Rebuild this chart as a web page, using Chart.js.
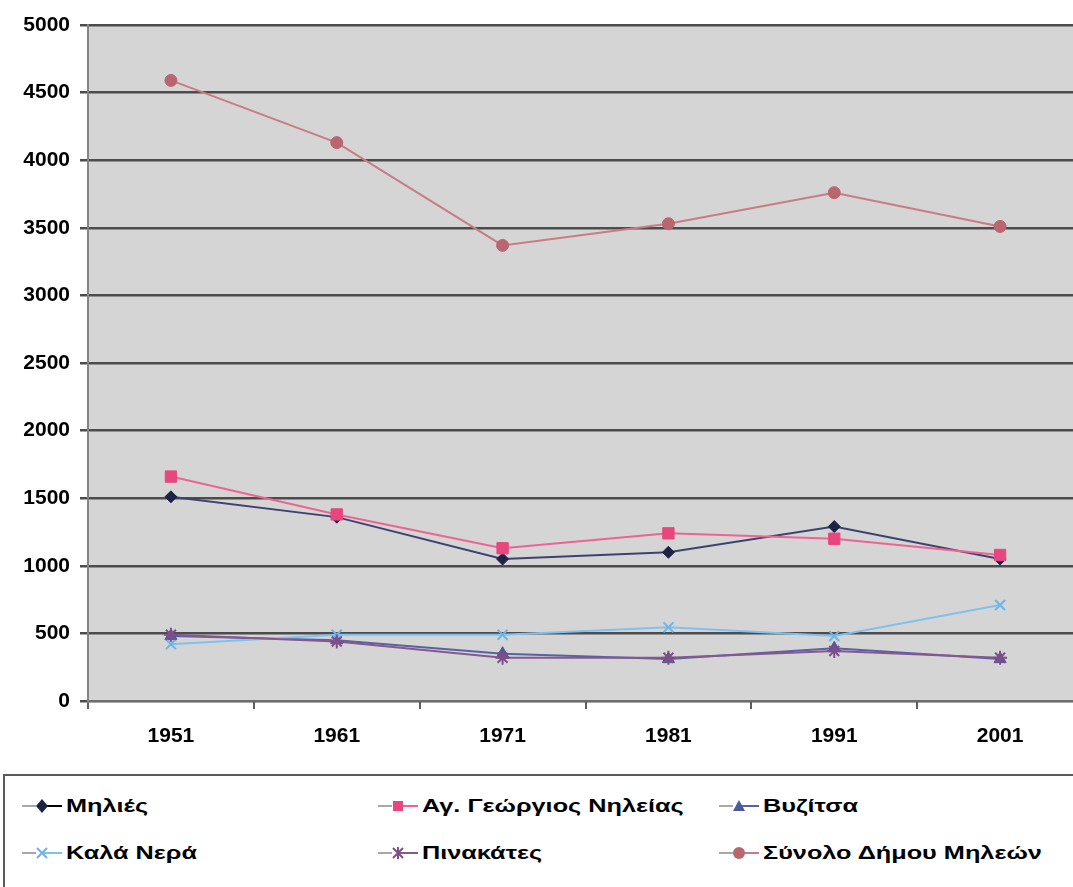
<!DOCTYPE html>
<html>
<head>
<meta charset="utf-8">
<script src="https://cdn.jsdelivr.net/npm/chart.js@4.4.1/dist/chart.umd.min.js"></script>
<style>
  html, body { margin: 0; padding: 0; background: #fff; overflow: hidden; width: 1073px; height: 887px; }
  #wrap { position: absolute; left: 0; top: 0; width: 1092px; height: 768px; }
  #legend { position: absolute; left: 3px; top: 774px; width: 1100px; height: 140px;
    border: 2px solid #5a5a5a; box-sizing: border-box; }
  .item { position: absolute; height: 30px; display: flex; align-items: center; }
  .item svg { flex: none; }
  .item span { font: bold 19px "Liberation Sans", Arial, sans-serif; color: #000;
    display: inline-block; transform: scaleX(1.33); transform-origin: left center;
    white-space: nowrap; margin-left: 4px; }
</style>
</head>
<body>
<div id="wrap"><canvas id="chart"></canvas></div>
<div id="legend"></div>
<script>
// census years
const years = ['1951', '1961', '1971', '1981', '1991', '2001'];

const seriesNames = [
  'Μηλιές',
  'Αγ. Γεώργιος Νηλείας',
  'Βυζίτσα',
  'Καλά Νερά',
  'Πινακάτες',
  'Σύνολο Δήμου Μηλεών'
];

// population per village
const milies = [1510, 1360, 1050, 1100, 1290, 1050];
const agGeorgios = [1660, 1380, 1130, 1240, 1200, 1080];
const vyzitsa = [480, 450, 350, 310, 390, 310];
const kalaNera = [420, 490, 490, 545, 480, 710];
const pinakates = [490, 440, 320, 320, 370, 320];
const synolo = [4590, 4130, 3370, 3530, 3760, 3510];

const yTicks = [0, 500, 1000, 1500, 2000, 2500, 3000, 3500, 4000, 4500, 5000];

const styles = [
  { line: '#3d4270', point: '#1e2244', shape: 'rectRot', r: 6 },
  { line: '#ec6494', point: '#e8467f', shape: 'rect', r: 8 },
  { line: '#5563a3', point: '#4b5a9c', shape: 'triangle', r: 7 },
  { line: '#7fc2ee', point: '#6cb4ea', shape: 'crossRot', r: 7 },
  { line: '#86588f', point: '#7d4f88', shape: 'star', r: 7 },
  { line: '#c97b88', point: '#b9666f', shape: 'circle', r: 6 }
];

const values = [milies, agGeorgios, vyzitsa, kalaNera, pinakates, synolo];

const datasets = values.map((data, i) => ({
  label: seriesNames[i],
  data,
  borderColor: styles[i].line,
  backgroundColor: styles[i].point,
  pointBackgroundColor: styles[i].point,
  pointBorderColor: styles[i].point,
  pointStyle: styles[i].shape,
  pointRadius: styles[i].r,
  pointBorderWidth: styles[i].shape === 'crossRot' || styles[i].shape === 'star' ? 2 : 1,
  borderWidth: 2,
  tension: 0,
  fill: false,
  order: 6 - i
}));

const plotBg = {
  id: 'plotBg',
  beforeDraw(chart) {
    const { ctx, chartArea: a } = chart;
    ctx.save();
    ctx.fillStyle = '#d5d5d5';
    ctx.fillRect(a.left, a.top, a.right - a.left, a.bottom - a.top);
    ctx.restore();
  }
};

const tickFont = { family: '"Liberation Sans", Arial, sans-serif', size: 21, weight: 'bold' };

new Chart(document.getElementById('chart'), {
  type: 'line',
  data: { labels: years, datasets },
  options: {
    responsive: true,
    maintainAspectRatio: false,
    animation: false,
    layout: { padding: { top: 25, right: 4, left: 0, bottom: 0 } },
    plugins: { legend: { display: false }, tooltip: { enabled: false } },
    scales: {
      x: {
        offset: true,
        grid: { offset: true, drawOnChartArea: false, drawTicks: true, tickLength: 8, color: '#5e5e5e', lineWidth: 2 },
        border: { display: true, color: '#6e6e6e', width: 2 },
        ticks: { font: tickFont, color: '#000', padding: 15, maxRotation: 0 },
        afterFit(scale) { scale.height = 67; }
      },
      y: {
        min: 0,
        max: 5000,
        afterBuildTicks(scale) { scale.ticks = yTicks.map(v => ({ value: v })); },
        grid: { color: '#4c4c4c', lineWidth: 2.5, tickLength: 8 },
        border: { display: true, color: '#858585', width: 2 },
        ticks: { font: tickFont, color: '#000', padding: 10, callback: v => String(v) },
        afterFit(scale) { scale.width = 88; }
      }
    }
  },
  plugins: [plotBg]
});

// legend drawn as html, 3 columns x 2 rows like the original
const markerSvg = (i) => {
  const s = styles[i];
  const c = s.point;
  let m = '';
  if (s.shape === 'rectRot') m = `<polygon points="20,4 26,11 20,18 14,11" fill="${c}"/>`;
  if (s.shape === 'rect') m = `<rect x="15" y="6" width="10" height="10" fill="${c}"/>`;
  if (s.shape === 'triangle') m = `<polygon points="20,5 26,16 14,16" fill="${c}"/>`;
  if (s.shape === 'crossRot') m = `<path d="M15 6 L25 16 M25 6 L15 16" stroke="${c}" stroke-width="2"/>`;
  if (s.shape === 'star') m = `<path d="M15 6 L25 16 M25 6 L15 16 M20 5 L20 17" stroke="${c}" stroke-width="2"/>`;
  if (s.shape === 'circle') m = `<circle cx="20" cy="11" r="6" fill="${c}"/>`;
  return `<svg width="40" height="22" viewBox="0 0 40 22">
    <line x1="0" y1="11" x2="14" y2="11" stroke="#a8a8a8" stroke-width="2"/>
    <line x1="20" y1="11" x2="40" y2="11" stroke="${i === 0 ? '#000' : s.line}" stroke-width="2"/>
    ${m}</svg>`;
};

const colLeft = [17, 373, 714];
const rowTop = [15, 62];
const legend = document.getElementById('legend');
seriesNames.forEach((name, i) => {
  const d = document.createElement('div');
  d.className = 'item';
  d.style.left = colLeft[i % 3] + 'px';
  d.style.top = rowTop[Math.floor(i / 3)] + 'px';
  d.innerHTML = markerSvg(i) + `<span>${name}</span>`;
  legend.appendChild(d);
});
</script>
</body>
</html>
